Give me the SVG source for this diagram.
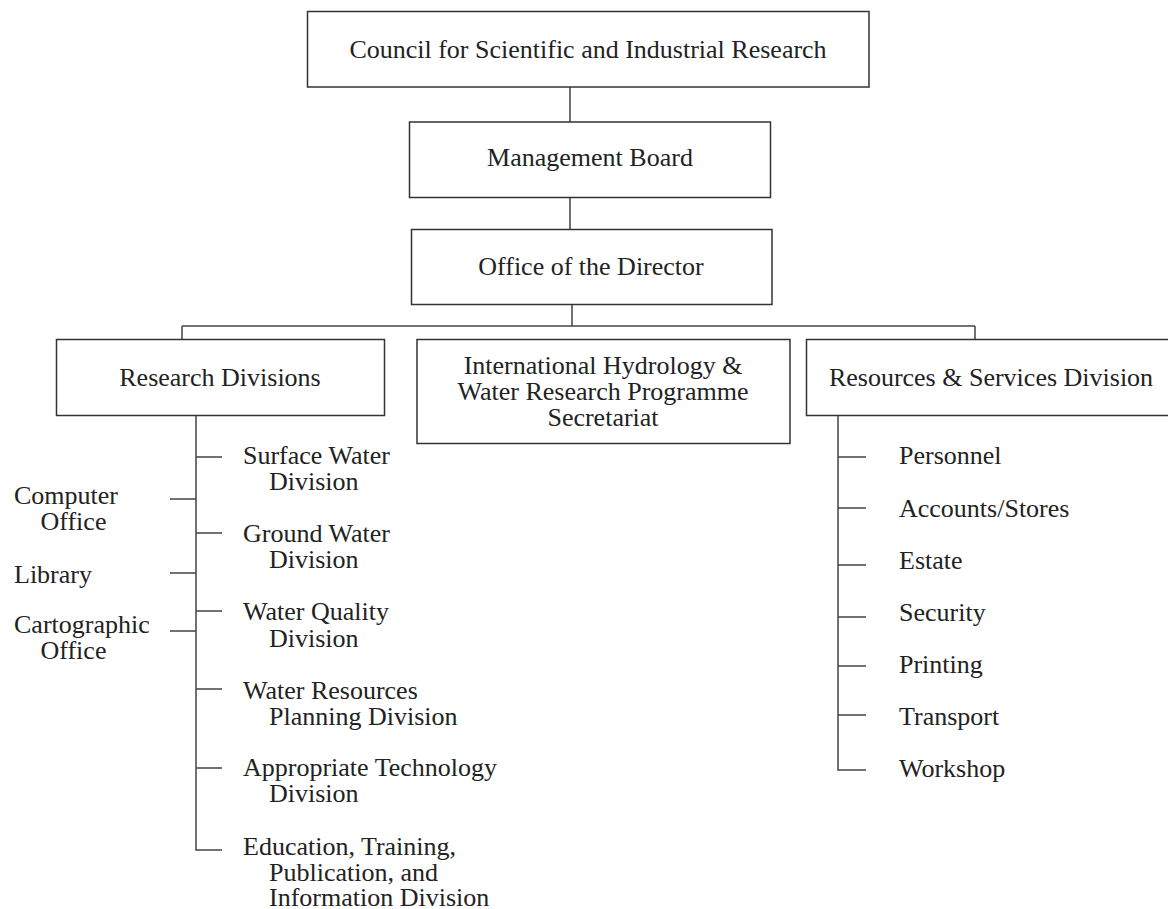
<svg xmlns="http://www.w3.org/2000/svg" width="1168" height="909" viewBox="0 0 1168 909">
<style>
  .box { fill: #ffffff; stroke: #333333; stroke-width: 1.5; }
  .conn { fill: none; stroke: #444444; stroke-width: 1.5; }
  text { font-family: "Liberation Serif", "Times New Roman", serif; font-size: 26px; fill: #222222; }
  .c { text-anchor: middle; }
</style>
<rect x="0" y="0" width="1168" height="909" fill="#ffffff"/>
<g id="connectors">
  <path class="conn" d="M570 87 V122 M570 197.5 V229.5 M572 304.5 V326 M182 326 H975 M182 326 V339.5 M975 326 V339.5"/>
  <path class="conn" d="M196 415.5 V850 H222 M196 457 H222 M196 533 H222 M196 611 H222 M196 689 H222 M196 768 H222"/>
  <path class="conn" d="M170 499 H196 M170 573 H196 M170 631 H196"/>
  <path class="conn" d="M838 415.5 V770 H866 M838 457 H866 M838 508 H866 M838 565 H866 M838 617 H866 M838 666 H866 M838 715 H866"/>
</g>
<g id="council">
  <rect class="box" x="307.5" y="11.5" width="561.5" height="75.5"/>
  <text class="c" x="588" y="58">Council for Scientific and Industrial Research</text>
</g>
<g id="management-board">
  <rect class="box" x="409.5" y="122" width="361" height="75.5"/>
  <text class="c" x="590" y="166">Management Board</text>
</g>
<g id="office-director">
  <rect class="box" x="411.5" y="229.5" width="360.5" height="75"/>
  <text class="c" x="591" y="275">Office of the Director</text>
</g>
<g id="research-divisions">
  <rect class="box" x="56.5" y="339.5" width="328" height="76"/>
  <text class="c" x="220" y="386">Research Divisions</text>
</g>
<g id="ihp">
  <rect class="box" x="417" y="339.5" width="373" height="104"/>
  <text class="c" x="603" y="374">International Hydrology &amp;</text>
  <text class="c" x="603" y="400">Water Research Programme</text>
  <text class="c" x="603" y="426">Secretariat</text>
</g>
<g id="resources-services">
  <rect class="box" x="806.5" y="339.5" width="370" height="76"/>
  <text class="c" x="991" y="386">Resources &amp; Services Division</text>
</g>
<g id="surface-water">
  <text x="243" y="464">Surface Water</text>
  <text x="269" y="490">Division</text>
</g>
<g id="ground-water">
  <text x="243" y="542">Ground Water</text>
  <text x="269" y="568">Division</text>
</g>
<g id="water-quality">
  <text x="243" y="620">Water Quality</text>
  <text x="269" y="646.5">Division</text>
</g>
<g id="water-resources">
  <text x="243" y="699">Water Resources</text>
  <text x="269" y="725">Planning Division</text>
</g>
<g id="appropriate-technology">
  <text x="243" y="776">Appropriate Technology</text>
  <text x="269" y="802">Division</text>
</g>
<g id="education">
  <text x="243" y="855">Education, Training,</text>
  <text x="269" y="881">Publication, and</text>
  <text x="269" y="906">Information Division</text>
</g>
<g id="computer-office">
  <text x="14" y="504">Computer</text>
  <text x="40.5" y="530">Office</text>
</g>
<g id="library">
  <text x="14" y="583">Library</text>
</g>
<g id="cartographic-office">
  <text x="14" y="633">Cartographic</text>
  <text x="40.5" y="659">Office</text>
</g>
<g id="personnel"><text x="899" y="464">Personnel</text></g>
<g id="accounts-stores"><text x="899" y="517">Accounts/Stores</text></g>
<g id="estate"><text x="899" y="569">Estate</text></g>
<g id="security"><text x="899" y="621">Security</text></g>
<g id="printing"><text x="899" y="673">Printing</text></g>
<g id="transport"><text x="899" y="725">Transport</text></g>
<g id="workshop"><text x="899" y="777">Workshop</text></g>
</svg>
